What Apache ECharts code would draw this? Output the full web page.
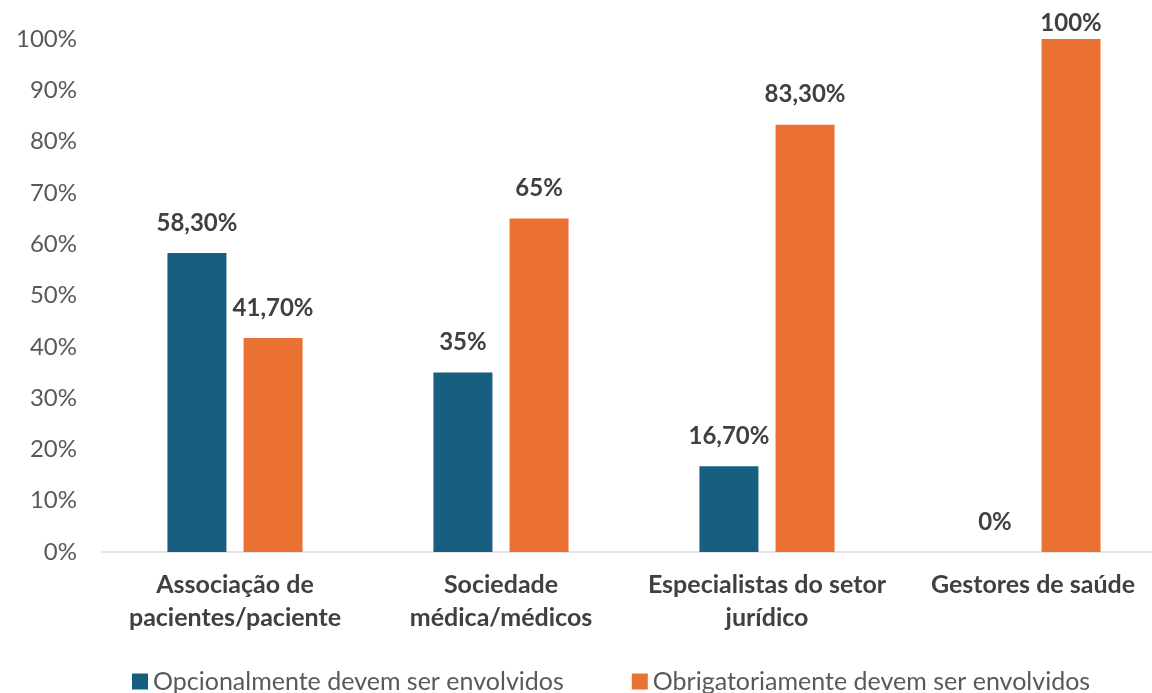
<!DOCTYPE html>
<html>
<head>
<meta charset="utf-8">
<script src="https://cdn.jsdelivr.net/npm/echarts@6/dist/echarts.min.js"></script>
<style>
  html, body { margin: 0; padding: 0; background: #fff; }
  #chart { width: 1152px; height: 693px; }
</style>
</head>
<body>
<div id="chart"></div>
<script>
// Categories and percentages per group
const categories = [
  'Associação de\npacientes/paciente',
  'Sociedade\nmédica/médicos',
  'Especialistas do setor\njurídico',
  'Gestores de saúde'
];
const seriesNames = [
  'Opcionalmente devem ser envolvidos',
  'Obrigatoriamente devem ser envolvidos'
];
const opcionalmente = [58.3, 35, 16.7, 0];
const obrigatoriamente = [41.7, 65, 83.3, 100];

const FONT = 'Lato, "Open Sans", sans-serif';
const Y_MAX = 100;

// Portuguese-style percentage: integers plain, others with two decimals and a comma
function pct(v) {
  return Number.isInteger(v) ? v + '%' : v.toFixed(2).replace('.', ',') + '%';
}

const labelStyle = {
  show: true,
  position: 'top',
  distance: 18,
  fontFamily: FONT,
  fontSize: 24,
  fontWeight: 'bold',
  color: '#404040',
  formatter: p => pct(p.value)
};

// A bar reaching the top of the axis keeps its label tucked just above it
function withLabels(values) {
  return values.map(v => v >= Y_MAX ? { value: v, label: { distance: 4 } } : v);
}

const chart = echarts.init(document.getElementById('chart'), null, { renderer: 'canvas' });
chart.setOption({
  animation: false,
  backgroundColor: '#ffffff',
  textStyle: { fontFamily: FONT },
  grid: {
    left: 102, top: 39, width: 1064, height: 513,
    containLabel: false,
    outerBoundsMode: 'none'
  },
  legend: {
    left: 127,
    top: 664,
    itemWidth: 16,
    itemHeight: 16,
    itemGap: 68,
    icon: 'rect',
    textStyle: { fontFamily: FONT, fontSize: 25, color: '#595959' },
    data: seriesNames
  },
  xAxis: {
    type: 'category',
    data: categories,
    axisLine: { show: true, lineStyle: { color: '#d9d9d9', width: 1.5 } },
    axisTick: { show: false },
    axisLabel: {
      margin: 16,
      fontFamily: FONT,
      fontSize: 25,
      fontWeight: 'bold',
      color: '#404040',
      lineHeight: 33,
      interval: 0
    }
  },
  yAxis: {
    type: 'value',
    min: 0,
    max: Y_MAX,
    interval: 10,
    splitLine: { show: false },
    axisLine: { show: false },
    axisTick: { show: false },
    axisLabel: {
      margin: 25,
      fontFamily: FONT,
      fontSize: 24,
      color: '#595959',
      formatter: '{value}%'
    }
  },
  series: [
    {
      name: seriesNames[0],
      type: 'bar',
      data: withLabels(opcionalmente),
      barWidth: 59,
      barGap: '29%',
      itemStyle: { color: '#175e80' },
      label: labelStyle
    },
    {
      name: seriesNames[1],
      type: 'bar',
      data: withLabels(obrigatoriamente),
      barWidth: 59,
      barGap: '29%',
      itemStyle: { color: '#ea7132' },
      label: labelStyle
    }
  ]
});
</script>
</body>
</html>
